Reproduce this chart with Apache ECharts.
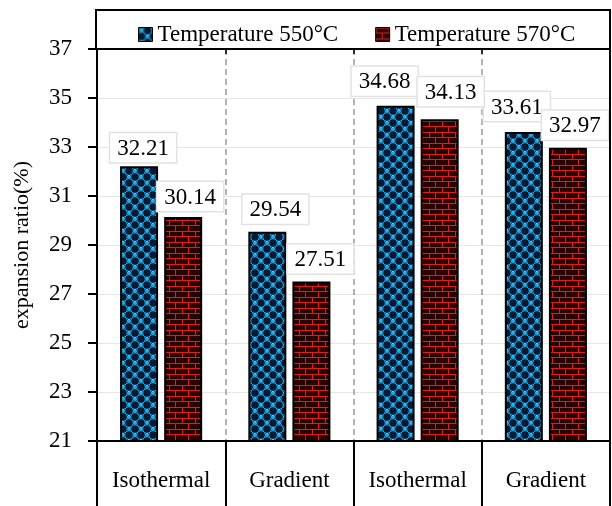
<!DOCTYPE html>
<html>
<head>
<meta charset="utf-8">
<script src="https://cdn.jsdelivr.net/npm/echarts@6/dist/echarts.min.js"></script>
<style>html,body{margin:0;padding:0;background:#fff}#c{width:612px;height:506px}</style>
</head>
<body>
<div id="c"></div>
<script>
var categories = ['Isothermal', 'Gradient', 'Isothermal', 'Gradient'];
var seriesNames = ['Temperature 550\u00B0C', 'Temperature 570\u00B0C'];
var temp550 = [32.21, 29.54, 34.68, 33.61];
var temp570 = [30.14, 27.51, 34.13, 32.97];
var yTicks = [21, 23, 25, 27, 29, 31, 33, 35, 37];

var FONT = 'Liberation Serif';

function bluePattern() {
  var c = document.createElement('canvas');
  c.width = 12; c.height = 12;
  var g = c.getContext('2d');
  g.fillStyle = '#22a8e2'; g.fillRect(0, 0, 12, 12);
  g.fillStyle = '#071a33';
  g.fillRect(6, 0, 6, 6); g.fillRect(0, 6, 6, 6);
  g.strokeStyle = '#0b3a5e'; g.lineWidth = 1;
  [[3, 3], [9, 9]].forEach(function (p) {
    g.beginPath(); g.arc(p[0], p[1], 2.6, 0, Math.PI * 2); g.stroke();
  });
  g.fillStyle = '#5cc8f2';
  g.fillRect(2, 1, 2, 1); g.fillRect(8, 7, 2, 1);
  return c;
}
function redPattern() {
  var c = document.createElement('canvas');
  c.width = 13; c.height = 11;
  var g = c.getContext('2d');
  g.fillStyle = '#2a0202'; g.fillRect(0, 0, 13, 11);
  g.strokeStyle = '#d8221a'; g.lineWidth = 1;
  g.beginPath();
  g.moveTo(0, 0.5); g.lineTo(13, 0.5);
  g.moveTo(0, 5.5); g.lineTo(13, 5.5);
  g.moveTo(0.5, 0); g.lineTo(0.5, 5);
  g.moveTo(6.5, 5); g.lineTo(6.5, 11);
  g.stroke();
  return c;
}

var blueFill = { image: bluePattern(), repeat: 'repeat' };
var redFill = { image: redPattern(), repeat: 'repeat' };

var blueOff = [[4, 4], [8, 0], [-11, -2], [-7, -3]];
var redOff = [[7, 2], [9, 0], [11, -5], [7, 0]];

function labelled(values, offs) {
  return values.map(function (v, i) {
    return { value: v, label: { offset: offs[i] } };
  });
}

var labelStyle = {
  show: true, position: 'top', distance: 8,
  fontFamily: FONT, fontSize: 23, color: '#000',
  backgroundColor: '#fff', borderColor: '#e2e2e2', borderWidth: 1.5,
  padding: [4, 7, 2, 7]
};

var chart = echarts.init(document.getElementById('c'), null, { renderer: 'canvas' });
chart.setOption({
  animation: false,
  backgroundColor: '#fff',
  grid: { left: 97, right: 2, top: 49, bottom: 65 },
  legend: {
    left: 133, top: 18, itemGap: 37, itemWidth: 14, itemHeight: 14,
    icon: 'rect',
    itemStyle: { borderColor: '#000', borderWidth: 1 },
    textStyle: { fontFamily: FONT, fontSize: 23, color: '#000' },
    data: seriesNames
  },
  xAxis: [{
    type: 'category', data: categories, position: 'bottom',
    axisLine: { lineStyle: { color: '#000', width: 2 } },
    axisTick: { show: true, length: 66, lineStyle: { color: '#000', width: 2 } },
    axisLabel: { fontFamily: FONT, fontSize: 23, color: '#000', margin: 28 },
    splitLine: { show: true, lineStyle: { color: '#999', width: 1.5, type: [6, 4] } }
  }, {
    type: 'category', data: categories, position: 'top',
    axisLine: { lineStyle: { color: '#000', width: 2 } },
    axisTick: { show: true, inside: true, length: 5, lineStyle: { color: '#000', width: 1.5 } },
    axisLabel: { show: false }
  }],
  yAxis: {
    type: 'value', min: yTicks[0], max: yTicks[yTicks.length - 1], interval: 2,
    name: 'expansion ratio(%)', nameLocation: 'middle', nameGap: 64,
    nameTextStyle: { fontFamily: FONT, fontSize: 22, color: '#000' },
    axisLine: { show: true, lineStyle: { color: '#000', width: 2 } },
    axisTick: { show: true, length: 9, lineStyle: { color: '#000', width: 2 } },
    axisLabel: { fontFamily: FONT, fontSize: 23, color: '#000', margin: 25 },
    splitLine: { show: true, lineStyle: { color: '#e6e6e6', width: 1 } }
  },
  series: [{
    name: seriesNames[0], type: 'bar', data: labelled(temp550, blueOff),
    barWidth: 38, barGap: '16%',
    itemStyle: { color: blueFill, borderColor: '#000', borderWidth: 2 },
    label: labelStyle
  }, {
    name: seriesNames[1], type: 'bar', data: labelled(temp570, redOff),
    barWidth: 38, barGap: '16%',
    itemStyle: { color: redFill, borderColor: '#000', borderWidth: 2 },
    label: labelStyle
  }],
  graphic: [
    { type: 'rect', shape: { x: 96, y: 10, width: 514, height: 39 },
      style: { fill: 'none', stroke: '#000', lineWidth: 2 }, z: 100 },
    { type: 'line', shape: { x1: 610, y1: 10, x2: 610, y2: 506 },
      style: { stroke: '#000', lineWidth: 2 }, z: 100 }
  ]
});
</script>
</body>
</html>
